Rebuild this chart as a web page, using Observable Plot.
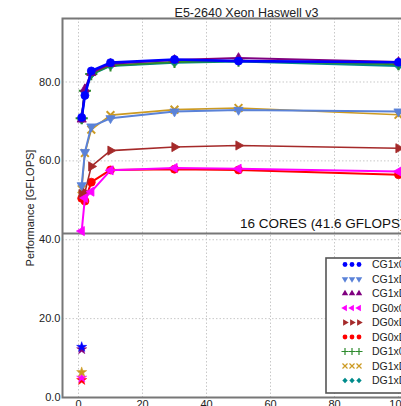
<!DOCTYPE html>
<html><head><meta charset="utf-8">
<script src="https://cdn.jsdelivr.net/npm/d3@7"></script>
<script src="https://cdn.jsdelivr.net/npm/@observablehq/plot@0.6"></script>
<style>
html,body{margin:0;padding:0;background:#fff;overflow:hidden;width:401px;height:406px}
#chart{width:480px;height:432px}
#chart svg{display:block;max-width:none !important;width:480px !important;height:432px !important}
</style>
</head><body><div id="chart"></div>
<script>
// ---- data ----
const cores = [1, 2, 4, 10, 30, 50, 100];
const seriesNames = ["CG1x0","CG1xDG0","CG1xDG1","DG0x0","DG0xDG0","DG0xDG1","DG1x0","DG1xDG0","DG1xDG1"];
const cg1x0   = [71.0, 76.6, 82.8, 84.9, 85.7, 85.3, 85.0];
const cg1xdg0 = [53.8, 62.2, 68.7, 70.8, 72.5, 72.9, 72.5];
const cg1xdg1 = [70.5, 78.2, 82.3, 84.6, 85.6, 86.1, 85.1];
const dg0x0   = [42.2, 50.6, 52.2, 57.6, 58.2, 58.0, 57.3];
const dg0xdg0 = [51.6, 52.0, 58.6, 62.6, 63.5, 63.9, 63.2];
const dg0xdg1 = [50.5, 49.8, 54.6, 57.7, 57.9, 57.7, 56.5];
const dg1x0   = [70.8, 77.8, 82.0, 84.2, 85.1, 85.4, 84.5];
const dg1xdg0 = [52.8, 62.0, 67.9, 71.6, 73.0, 73.4, 71.7];
const dg1xdg1 = [70.4, 77.5, 81.9, 84.1, 84.9, 85.2, 84.1];
const seriesValues = [cg1x0, cg1xdg0, cg1xdg1, dg0x0, dg0xdg0, dg0xdg1, dg1x0, dg1xdg0, dg1xdg1];
// single-core (serial) reference points
const serialCores = 1;
const serialNames  = ["CG1xDG1", "CG1x0", "DG0xDG1", "DG0x0", "DG1xDG0"];
const serialValues = [12.2, 12.8, 4.4, 5.0, 6.4];
const peakGflops = 41.6;
const annotation = "16 CORES (41.6 GFLOPS)";
const title = "E5-2640 Xeon Haswell v3";
const yLabel = "Performance [GFLOPS]";
const xTicks = [0, 20, 40, 60, 80, 100];
const yTicks = [0, 20, 40, 60, 80];

// ---- styles ----
function tri(angleDeg) {
  const a0 = angleDeg * Math.PI / 180;
  return { draw(ctx, size) {
    const R = Math.sqrt(size / (3 * Math.sqrt(3) / 4));
    for (let k = 0; k < 3; k++) {
      const a = a0 + k * 2 * Math.PI / 3;
      const px = R * Math.cos(a), py = R * Math.sin(a);
      if (k === 0) ctx.moveTo(px, py); else ctx.lineTo(px, py);
    }
    ctx.closePath();
  }};
}
const triUp = tri(-90), triDown = tri(90), triLeft = tri(180), triRight = tri(0);
const colors  = ["#0000ff", "#5a82d8", "#800080", "#ff00ff", "#a52a2a", "#ff0000", "#2e8b2e", "#cc9a22", "#008b8b"];
const symbols = [d3.symbolCircle, triDown, triUp, triLeft, triRight, d3.symbolCircle, d3.symbolPlus, d3.symbolTimes, d3.symbolDiamond2];
const strokeSym = [false, false, false, false, false, false, true, true, false];
const dotR = [4, 3.4, 3.4, 3.4, 3.4, 4, 4, 3.6, 3.8];
const lineW = [2.6, 2, 2, 2, 1.6, 2, 2, 1.6, 2.2];
const colorOf = Object.fromEntries(seriesNames.map((n, i) => [n, colors[i]]));

// ---- table ----
const rows = seriesNames.flatMap((name, i) => cores.map((c, j) => ({series: name, i, cores: c, gflops: seriesValues[i][j]})));
const serial = serialNames.map((n, i) => ({series: n, cores: serialCores, gflops: serialValues[i]}));

const marks = [
  Plot.gridX(xTicks, {stroke: "#c8c8c8", strokeOpacity: 1, strokeDasharray: "1.5,2", strokeWidth: 1}),
  Plot.gridY(yTicks, {stroke: "#c8c8c8", strokeOpacity: 1, strokeDasharray: "1.5,2", strokeWidth: 1}),
  Plot.ruleY([peakGflops], {stroke: "#777", strokeWidth: 2})
];
for (let i = seriesNames.length - 1; i >= 0; i--) {
  const data = rows.filter(d => d.i === i);
  marks.push(Plot.line(data, {x: "cores", y: "gflops", stroke: colors[i], strokeWidth: lineW[i]}));
  marks.push(Plot.dot(data, strokeSym[i]
    ? {x: "cores", y: "gflops", symbol: symbols[i], r: dotR[i], stroke: colors[i], strokeWidth: 2, fill: "none"}
    : {x: "cores", y: "gflops", symbol: symbols[i], r: dotR[i], fill: colors[i], stroke: colors[i], strokeWidth: 0.8}));
}
marks.push(Plot.dot(serial, {x: "cores", y: "gflops", symbol: "star", r: 3.2, fill: d => colorOf[d.series], stroke: d => colorOf[d.series], strokeWidth: 0.5}));
marks.push(Plot.text([annotation], {x: () => 50.5, y: () => peakGflops, text: d => d, textAnchor: "start", lineAnchor: "bottom", dy: -5, fontSize: 13.5, fill: "#111"}));
marks.push(Plot.text([title], {frameAnchor: "top", text: d => d, lineAnchor: "bottom", dy: -2, fontSize: 12.5, fill: "#222"}));
marks.push(Plot.axisX({ticks: xTicks, tickSize: 0, tickPadding: 3, label: null, fontSize: 11, fill: "#222"}));
marks.push(Plot.axisY({ticks: yTicks, tickSize: 0, tickPadding: 2, tickFormat: d3.format(".1f"), label: yLabel, labelAnchor: "center", labelArrow: "none", labelOffset: 36, fontSize: 11, fill: "#222"}));
marks.push(Plot.frame({stroke: "#777", strokeWidth: 2}));

const plot = Plot.plot({
  width: 480, height: 432,
  marginTop: 18, marginRight: 50, marginBottom: 35, marginLeft: 62,
  x: {domain: [-5, 110]},
  y: {domain: [0, 96.1]},
  style: {fontFamily: "'Liberation Sans', Arial, sans-serif", fontSize: "11px", background: "white", overflow: "visible", maxWidth: "none"},
  marks
});
document.getElementById("chart").append(plot);

// ---- legend (lower right, inside frame) ----
const svg = d3.select(plot);
const lg = svg.append("g").attr("font-family", "'Liberation Sans', Arial, sans-serif").attr("font-size", 10.5).attr("text-anchor", "start");
const boxX = 326, boxY = 258, boxW = 99, boxH = 135, rowY0 = 264.5, rowH = 14.5;
lg.append("rect").attr("x", boxX).attr("y", boxY).attr("width", boxW).attr("height", boxH)
  .attr("fill", "white").attr("stroke", "#555").attr("stroke-width", 1.6);
seriesNames.forEach((name, i) => {
  const y = rowY0 + i * rowH;
  [345, 352, 359].forEach(x => {
    const sz = Math.PI * 2.4 * 2.4;
    const p = lg.append("path").attr("d", d3.symbol(symbols[i], sz)()).attr("transform", `translate(${x},${y})`);
    if (strokeSym[i]) p.attr("fill", "none").attr("stroke", colors[i]).attr("stroke-width", 1.2);
    else p.attr("fill", colors[i]);
  });
  lg.append("text").attr("x", 372).attr("y", y).attr("dy", "0.35em").attr("text-anchor", "start").attr("fill", "#222").text(name);
});
</script></body></html>
